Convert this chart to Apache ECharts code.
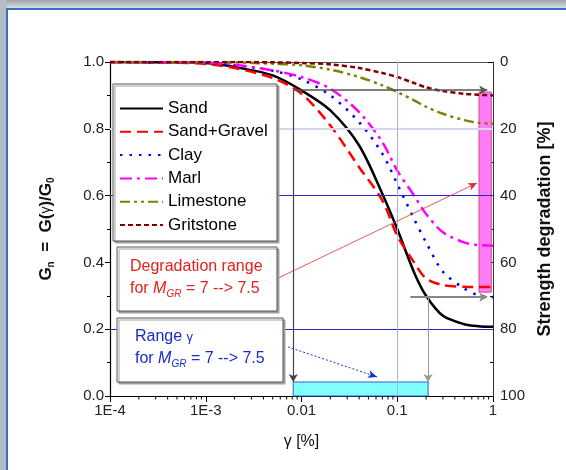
<!DOCTYPE html>
<html>
<head>
<meta charset="utf-8">
<script src="https://cdn.jsdelivr.net/npm/echarts@6/dist/echarts.min.js"></script>
<style>html,body{margin:0;padding:0;background:#fff}#c{width:566px;height:470px}</style>
</head>
<body>
<div id="c"></div>
<script>
// ---- data ----
const gamma = [1e-4, 5e-4, 1e-3, 2e-3, 5e-3, 0.01, 0.02, 0.04, 0.07, 0.1, 0.15, 0.2, 0.3, 0.5, 0.7, 1];
const sand       = [1.0, 0.999, 0.997, 0.985, 0.96, 0.915, 0.855, 0.75, 0.605, 0.50, 0.37, 0.30, 0.24, 0.215, 0.209, 0.207];
const sandGravel = [1.0, 0.998, 0.994, 0.982, 0.952, 0.905, 0.81, 0.685, 0.585, 0.48, 0.40, 0.352, 0.332, 0.327, 0.326, 0.326];
const clay       = [1.0, 0.999, 0.997, 0.99, 0.974, 0.948, 0.90, 0.82, 0.725, 0.635, 0.53, 0.46, 0.372, 0.322, 0.302, 0.296];
const marl       = [1.0, 0.999, 0.998, 0.992, 0.975, 0.955, 0.92, 0.85, 0.76, 0.675, 0.60, 0.545, 0.49, 0.46, 0.452, 0.45];
const limestone  = [1.0, 1.0, 1.0, 0.999, 0.995, 0.99, 0.977, 0.955, 0.93, 0.91, 0.885, 0.866, 0.845, 0.826, 0.818, 0.815];
const gritstone  = [1.0, 1.0, 1.0, 1.0, 0.999, 0.997, 0.993, 0.982, 0.967, 0.955, 0.937, 0.924, 0.913, 0.905, 0.902, 0.9];
const seriesNames = ['Sand', 'Sand+Gravel', 'Clay', 'Marl', 'Limestone', 'Gritstone'];
const xTickLabels = ['1E-4', '1E-3', '0.01', '0.1', '1'];
const xMinorTicks = [2e-4,3e-4,4e-4,5e-4,6e-4,7e-4,8e-4,9e-4,2e-3,3e-3,4e-3,5e-3,6e-3,7e-3,8e-3,9e-3,0.02,0.03,0.04,0.05,0.06,0.07,0.08,0.09,0.2,0.3,0.4,0.5,0.6,0.7,0.8,0.9];
// annotation values (axis units)
const gammaRange = [0.0082, 0.21];        // cyan range of gamma
const cyanTop = 0.042;                    // G
const degradRange = [0.91, 0.311];        // G (pink bar top/bottom) ~ 9% .. 69% degradation
const pinkGamma = [0.714, 0.96];
const guideUpperG = 0.916, guideLowerG = 0.296;
const guideLowerStart = 0.137, guideEnd = 0.87;
const redArrow = [[0.00542, 0.35], [0.681, 0.638]];
const blueArrow = [[0.00723, 0.147], [0.0615, 0.057]];
const gridH = [0.2, 0.6], gridHLight = [0.8], gridV = [0.1];

const FF = 'Liberation Sans, Arial, sans-serif';
const chart = echarts.init(document.getElementById('c'));
const curves = [sand, sandGravel, clay, marl, limestone, gritstone];
const styles = [
  {color:'#000000', type:'solid', width:2.5},
  {color:'#ff0000', type:[11,6], width:2.5},
  {color:'#0000ee', type:[2.5,7], width:2.5},
  {color:'#ff00ff', type:[12,5,3,5], width:2.5},
  {color:'#808000', type:[10,4,3,4,3,4], width:2.5},
  {color:'#800000', type:[5,3], width:2.5}
];
const series = curves.map((c, i) => ({
  name: seriesNames[i], type: 'line', symbol: 'none', smooth: 0.3, z: 4,
  data: gamma.map((g, k) => [g, c[k]]),
  lineStyle: styles[i], itemStyle: {color: styles[i].color}
}));

// grid lines
series.push({
  type: 'line', data: [], z: 1, silent: true,
  markLine: {
    symbol: 'none', silent: true, label: {show: false},
    data: [
      ...gridH.map(v => ({yAxis: v, lineStyle: {color: '#2828c0', width: 1, type: 'solid'}})),
      ...gridHLight.map(v => ({yAxis: v, lineStyle: {color: '#d6d6ee', width: 2, type: 'solid'}})),
      ...gridV.map(v => ({xAxis: v, lineStyle: {color: '#a8b0e4', width: 1, type: 'solid'}}))
    ]
  }
});
// guides & areas
series.push({
  type: 'line', data: [], z: 6, silent: true,
  markArea: {
    silent: true,
    data: [
      [{coord: [pinkGamma[0], degradRange[0]], itemStyle: {color: '#ff7cf6', borderColor: '#d4489a', borderWidth: 1}}, {coord: [pinkGamma[1], degradRange[1]]}],
      [{coord: [gammaRange[0], cyanTop], itemStyle: {color: '#80ffff', borderColor: '#3a5ac8', borderWidth: 1}}, {coord: [gammaRange[1], 0]}]
    ]
  },
  markLine: {
    silent: true, label: {show: false}, symbolSize: [7, 8],
    data: [
      [{coord: [gammaRange[0], guideUpperG], symbol: 'none', lineStyle: {color: '#444', width: 1.2, type: 'solid'}}, {coord: [gammaRange[0], cyanTop], symbol: 'arrow'}],
      [{coord: [gammaRange[0], guideUpperG], symbol: 'none', lineStyle: {color: '#555', width: 1.5, type: 'solid'}}, {coord: [guideEnd, guideUpperG], symbol: 'arrow'}],
      [{coord: [guideLowerStart, guideLowerG], symbol: 'none', lineStyle: {color: '#888', width: 2, type: 'solid'}}, {coord: [guideEnd, guideLowerG], symbol: 'arrow'}],
      [{coord: [gammaRange[1], guideLowerG], symbol: 'none', lineStyle: {color: '#999', width: 1, type: 'solid'}}, {coord: [gammaRange[1], cyanTop], symbol: 'arrow'}],
      [{coord: redArrow[0], symbol: 'none', lineStyle: {color: '#e03030', width: 0.8, type: 'solid'}}, {coord: redArrow[1], symbol: 'arrow', symbolSize: [6, 9]}],
      [{coord: blueArrow[0], symbol: 'none', lineStyle: {color: '#2030d0', width: 1, type: [2, 2]}}, {coord: blueArrow[1], symbol: 'arrow', symbolSize: [6, 9]}]
    ]
  }
});
// minor ticks on log x axis
series.push({
  type: 'custom', z: 3, silent: true, clip: false,
  data: xMinorTicks.map(v => [v, 0]),
  renderItem: (params, api) => {
    const p = api.coord([api.value(0), 0]);
    return {type: 'line', shape: {x1: p[0], y1: p[1], x2: p[0], y2: p[1] + 3.5}, style: {stroke: '#000', lineWidth: 1}};
  }
});

const boxStyle = {fill: '#fff', stroke: '#555', lineWidth: 1, shadowColor: '#a0a0a0', shadowOffsetX: 2, shadowOffsetY: 2, shadowBlur: 0};
const blue = '#3a6fc4';
chart.setOption({
  animation: false,
  grid: {left: 110, right: 73, top: 62, bottom: 74},
  xAxis: [{
    type: 'log', logBase: 10, min: 1e-4, max: 1,
    name: '{t|γ [%]}', nameLocation: 'middle', nameGap: 38,
    nameTextStyle: {rich: {t: {fontFamily: FF, fontSize: 16, color: '#111'}}},
    axisLine: {lineStyle: {color: '#000', width: 1.2}},
    axisTick: {length: 6, lineStyle: {color: '#000'}},
    splitLine: {show: false},
    axisLabel: {fontFamily: FF, fontSize: 15, color: '#222', margin: 7,
      formatter: v => xTickLabels[Math.round(Math.log10(v)) + 4]}
  }, {
    type: 'log', logBase: 10, min: 1e-4, max: 1, position: 'top',
    axisLine: {lineStyle: {color: '#555', width: 1}}, axisTick: {show: false}, axisLabel: {show: false}, splitLine: {show: false}
  }],
  yAxis: [{
    type: 'value', min: 0, max: 1, interval: 0.2,
    name: '{b|G}{s|n}{b|  =  G(}{g|γ}{b|)/G}{s|0}', nameLocation: 'middle', nameGap: 54, nameRotate: 90,
    nameTextStyle: {rich: {
      b: {fontFamily: FF, fontSize: 17, fontWeight: 'bold', color: '#111'},
      g: {fontFamily: FF, fontSize: 14, color: '#111'},
      s: {fontFamily: FF, fontSize: 10, fontWeight: 'bold', color: '#111', padding: [10, 0, 0, 0]}
    }},
    axisLine: {show: true, lineStyle: {color: '#000', width: 1.2}},
    axisTick: {show: true, length: 5, lineStyle: {color: '#000'}},
    minorTick: {show: true, splitNumber: 2, length: 3, lineStyle: {color: '#000'}},
    splitLine: {show: false},
    axisLabel: {fontFamily: FF, fontSize: 15, color: '#222', margin: 6, formatter: v => v.toFixed(1)}
  }, {
    type: 'value', min: 0, max: 100, interval: 20, inverse: true, position: 'right',
    name: 'Strength degradation [%]', nameLocation: 'middle', nameGap: 38, nameRotate: 90,
    nameTextStyle: {fontFamily: FF, fontSize: 18, fontWeight: 'bold', color: '#111'},
    axisLine: {show: true, lineStyle: {color: '#333', width: 1}},
    axisTick: {show: true, inside: true, length: 5, lineStyle: {color: '#000'}},
    minorTick: {show: true, splitNumber: 2, length: 3, lineStyle: {color: '#000'}},
    splitLine: {show: false},
    axisLabel: {fontFamily: FF, fontSize: 15, color: '#222', margin: 7}
  }],
  legend: {
    data: seriesNames, orient: 'vertical', left: 119, top: 100, z: 10,
    itemWidth: 43, itemHeight: 14, itemGap: 6.3,
    itemStyle: {opacity: 0, borderWidth: 0},
    textStyle: {fontFamily: FF, fontSize: 17, color: '#000'},
    padding: 0, selectedMode: false
  },
  graphic: [
    {type: 'rect', z: -10, shape: {x: 0, y: 0, width: 566, height: 8}, style: {fill: new echarts.graphic.LinearGradient(0, 0, 0, 1, [{offset: 0, color: '#9ea4ac'}, {offset: 1, color: '#d9dce0'}])}},
    {type: 'rect', z: -10, shape: {x: 0, y: 0, width: 7, height: 470}, style: {fill: '#b4bcc8'}},
    {type: 'rect', z: -9, shape: {x: 6, y: 8, width: 560, height: 2}, style: {fill: blue}},
    {type: 'rect', z: -9, shape: {x: 6, y: 8, width: 2, height: 462}, style: {fill: blue}},
    {type: 'rect', z: 8, shape: {x: 113, y: 84, width: 164, height: 157}, style: boxStyle},
    {type: 'rect', z: 8, shape: {x: 117, y: 247, width: 160, height: 64}, style: boxStyle},
    {type: 'rect', z: 8, shape: {x: 117, y: 318, width: 166, height: 64}, style: boxStyle},
    {type: 'text', z: 9, x: 130, y: 256, style: {
      text: '{a|Degradation range}\n{a|for }{i|M}{s|GR}{a| = 7 --> 7.5}', fill: '#e8201c',
      rich: {a: {fontFamily: FF, fontSize: 16, lineHeight: 22, fill: '#e8201c'},
             i: {fontFamily: FF, fontSize: 16, fontStyle: 'italic', lineHeight: 22, fill: '#e8201c'},
             s: {fontFamily: FF, fontSize: 10, fontStyle: 'italic', fill: '#e8201c', padding: [10, 0, 0, 0]}}
    }},
    {type: 'text', z: 9, x: 135, y: 326, style: {
      text: '{a|Range }{g|γ}\n{a|for }{i|M}{s|GR}{a| = 7 --> 7.5}', fill: '#1a2ad0',
      rich: {a: {fontFamily: FF, fontSize: 16, lineHeight: 22, fill: '#1a2ad0'},
             g: {fontFamily: FF, fontSize: 13, lineHeight: 22, fill: '#1a2ad0'},
             i: {fontFamily: FF, fontSize: 16, fontStyle: 'italic', lineHeight: 22, fill: '#1a2ad0'},
             s: {fontFamily: FF, fontSize: 10, fontStyle: 'italic', fill: '#1a2ad0', padding: [10, 0, 0, 0]}}
    }}
  ],
  series: series
});
</script>
</body>
</html>
